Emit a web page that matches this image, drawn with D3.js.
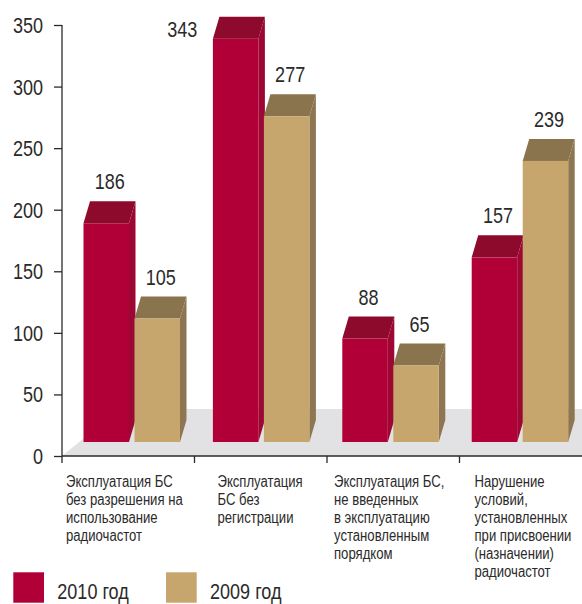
<!DOCTYPE html>
<html><head><meta charset="utf-8">
<script src="https://cdn.jsdelivr.net/npm/d3@7/dist/d3.min.js"></script>
<style>
html,body{margin:0;padding:0;background:#fff;}
svg text{font-family:"Liberation Sans",Arial,sans-serif;fill:#2b2a29;}
</style></head>
<body><svg id="c" width="582" height="604"></svg>
<script>
const categories = [
  ["Эксплуатация БС","без разрешения на","использование","радиочастот"],
  ["Эксплуатация","БС без","регистрации"],
  ["Эксплуатация БС,","не введенных","в эксплуатацию","установленным","порядком"],
  ["Нарушение","условий,","установленных","при присвоении","(назначении)","радиочастот"]
];
const seriesNames = ["2010 год","2009 год"];
const values2010 = [186, 343, 88, 157];
const values2009 = [105, 277, 65, 239];
const yTicks = [0, 50, 100, 150, 200, 250, 300, 350];

const colors = {
  "2010 год": {front:"#b00037", top:"#8e0a2d", side:"#9c0833"},
  "2009 год": {front:"#c6a66c", top:"#8a744d", side:"#8d7651"}
};
const labelNudge = [4, 23, 7, 15];
const NARROW = 0.82;

const svg = d3.select("#c");
const catIdx = categories.map((d,i)=>i);

function addText(parent, x, y, str, size, anchor) {
  const g = parent.append("g").attr("transform", `translate(${x},${y}) scale(${NARROW},1)`);
  return g.append("text").attr("x",0).attr("y",0).attr("font-size",size)
    .attr("text-anchor", anchor || "start").text(str);
}

// axis scales
const yAxisScale = d3.scaleLinear().domain([0,350]).range([456,25]);
const xAxisScale = d3.scaleBand().domain(catIdx).range([62, 592]);

// bar scales
const yBar = d3.scaleLinear().domain([0,350]).range([442, 442 - 350*1.176]);
const x0 = d3.scaleBand().domain(catIdx).range([83.5, 83.5 + 4*129.4]);
const x1 = d3.scaleBand().domain(seriesNames).range([0, 96.5]).paddingInner(0.108).paddingOuter(0);
const depth = {dx: 6.5, dy: -22};

// floor
svg.append("path")
  .attr("d", `M62,456 L120,409 L582,409 L582,456 Z`)
  .attr("fill", "#e2e2e4");

// bars
const data = [];
catIdx.forEach(i => {
  data.push({c:i, s:seriesNames[0], v:values2010[i]});
  data.push({c:i, s:seriesNames[1], v:values2009[i]});
});

const g = svg.append("g");
data.forEach(d => {
  const xl = x0(d.c) + x1(d.s);
  const xr = xl + x1.bandwidth();
  const yt = yBar(d.v);
  const yb = yBar(0);
  const col = colors[d.s];
  const grp = g.append("g");
  grp.append("path")
    .attr("d", `M${xr},${yt} L${xr+depth.dx},${yt+depth.dy} L${xr+depth.dx},${yb+depth.dy} L${xr},${yb} Z`)
    .attr("fill", col.side);
  grp.append("path")
    .attr("d", `M${xl},${yt} L${xl+depth.dx},${yt+depth.dy} L${xr+depth.dx},${yt+depth.dy} L${xr},${yt} Z`)
    .attr("fill", col.top);
  grp.append("rect")
    .attr("x", xl).attr("y", yt).attr("width", xr-xl).attr("height", yb-yt)
    .attr("fill", col.front);
  const backTop = yt + depth.dy;
  let lx = (xl+xr)/2 + 3.5, ly = backTop - 12, anchor = "middle";
  if (ly - 17 < 0) { lx = xl - 15.5; ly = yt - 2; anchor = "end"; }
  addText(svg, lx, ly, d.v, 22, anchor);
});

// y axis
const yAxis = d3.axisLeft(yAxisScale).tickValues(yTicks).tickSize(8).tickFormat("").tickSizeOuter(0);
const ya = svg.append("g").attr("transform","translate(62,0)").call(yAxis);
ya.select(".domain").remove();
ya.selectAll("line").attr("stroke","#2b2a29").attr("stroke-width",1.3);
yTicks.forEach(t => addText(svg, 43, yAxisScale(t) + 8, t, 22, "end"));
svg.append("line").attr("x1",62).attr("x2",62).attr("y1",yAxisScale(350)).attr("y2",463)
  .attr("stroke","#2b2a29").attr("stroke-width",1.3);

// x axis
svg.append("line").attr("x1",62).attr("x2",582).attr("y1",456).attr("y2",456)
  .attr("stroke","#2b2a29").attr("stroke-width",1.3);
catIdx.slice(1).forEach(i => {
  svg.append("line").attr("x1",xAxisScale(i)).attr("x2",xAxisScale(i)).attr("y1",456).attr("y2",463)
    .attr("stroke","#2b2a29").attr("stroke-width",1.3);
});

// category labels
categories.forEach((lines,i) => {
  const gg = svg.append("g").attr("transform", `translate(${xAxisScale(i) + labelNudge[i]},486.7) scale(${NARROW},1)`);
  const t = gg.append("text").attr("font-size",16).attr("x",0).attr("y",0);
  lines.forEach((ln,j) => {
    t.append("tspan").attr("x", 0).attr("dy", j===0?0:18).text(ln);
  });
});

// legend
const legX = d3.scalePoint().domain(seriesNames).range([13.3, 166]);
seriesNames.forEach(s => {
  svg.append("rect").attr("x", legX(s)).attr("y", 572.3).attr("width", 30.7).attr("height", 30.4)
    .attr("fill", colors[s].front);
  addText(svg, legX(s)+44, 599.3, s, 22, "start");
});
</script></body></html>
